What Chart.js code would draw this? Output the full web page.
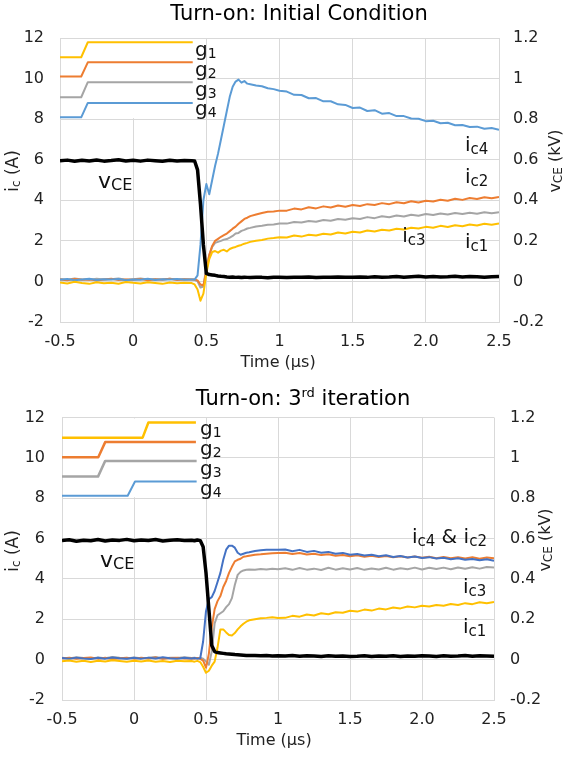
<!DOCTYPE html>
<html>
<head>
<meta charset="utf-8">
<script src="https://cdn.jsdelivr.net/npm/chart.js@4.4.1/dist/chart.umd.min.js"></script>
<style>
  html, body { margin: 0; padding: 0; background: #fff; }
  canvas { position: absolute; left: 0; }
  #chart1 { top: 0; }
  #chart2 { top: 378px; }
</style>
</head>
<body>
<canvas id="chart1" width="565" height="378"></canvas>
<canvas id="chart2" width="565" height="379"></canvas>
<script>
// time axis (µs), shared by both measurements
const time = [
  -0.5,-0.45,-0.4,-0.35,-0.3,-0.25,-0.2,-0.15,-0.1,-0.05,
  0,0.05,0.1,0.15,0.2,0.25,0.3,0.35,
  0.4,0.42,0.44,0.46,0.48,0.5,0.52,0.54,0.56,0.58,
  0.6,0.62,0.64,0.66,0.68,0.7,0.72,0.74,0.76,0.78,
  0.8,0.84,0.88,0.92,0.96,1.0,
  1.05,1.1,1.15,1.2,1.25,1.3,1.35,1.4,1.45,1.5,
  1.55,1.6,1.65,1.7,1.75,1.8,1.85,1.9,1.95,2.0,
  2.05,2.1,2.15,2.2,2.25,2.3,2.35,2.4,2.45,2.5
];

// tick labels
const xTicks = [-0.5, 0, 0.5, 1, 1.5, 2, 2.5];
const xTickLabels = ['-0.5', '0', '0.5', '1', '1.5', '2.0', '2.5'];
const iTicks = [-2, 0, 2, 4, 6, 8, 10, 12];
const iTickLabels = ['-2', '0', '2', '4', '6', '8', '10', '12'];
const vTicks = [-0.2, 0, 0.2, 0.4, 0.6, 0.8, 1, 1.2];
const vTickLabels = ['-0.2', '0', '0.2', '0.4', '0.6', '0.8', '1', '1.2'];

// ---- Initial condition ----
const vce1 = [
  0.595,0.598,0.592,0.597,0.594,0.599,0.593,0.596,0.600,0.594,
  0.597,0.593,0.598,0.595,0.592,0.597,0.594,0.596,
  0.595,0.594,0.55,0.38,0.18,0.040,0.034,0.032,0.030,0.027,
  0.025,0.024,0.022,0.021,0.022,0.020,0.021,0.019,0.021,0.020,
  0.019,0.021,0.020,0.018,0.021,0.020,
  0.019,0.021,0.020,0.022,0.019,0.021,0.020,0.022,0.021,0.020,
  0.022,0.020,0.023,0.021,0.022,0.024,0.021,0.023,0.025,0.022,
  0.024,0.022,0.023,0.025,0.022,0.024,0.023,0.021,0.023,0.024
];
const ic4_1 = [
  0.08,0.12,0.06,0.10,0.13,0.07,0.11,0.09,0.12,0.06,
  0.10,0.08,0.13,0.07,0.11,0.09,0.12,0.08,
  0.10,0.09,0.30,1.80,4.00,4.80,4.30,5.00,5.70,6.30,
  7.00,7.70,8.40,9.10,9.60,9.85,9.95,9.80,9.88,9.75,
  9.72,9.66,9.62,9.52,9.48,9.40,
  9.36,9.20,9.19,9.03,9.04,8.88,8.88,8.73,8.70,8.55,
  8.57,8.40,8.44,8.27,8.30,8.15,8.15,8.03,8.02,7.90,
  7.92,7.80,7.82,7.70,7.71,7.61,7.63,7.53,7.56,7.48
];
const ic2_1 = [
  0.10,0.06,0.12,0.08,0.11,0.05,0.09,0.13,0.07,0.10,
  0.08,0.12,0.06,0.10,0.09,0.13,0.07,0.10,
  0.09,0.10,0.05,-0.15,-0.20,0.50,1.30,1.75,2.00,2.10,
  2.20,2.28,2.36,2.48,2.60,2.70,2.84,2.96,3.08,3.14,
  3.22,3.30,3.37,3.43,3.45,3.49,
  3.49,3.59,3.55,3.66,3.60,3.70,3.64,3.74,3.68,3.77,
  3.72,3.81,3.77,3.86,3.81,3.90,3.85,3.95,3.89,3.98,
  3.94,4.03,3.98,4.08,4.02,4.11,4.06,4.15,4.10,4.16
];
const ic3_1 = [
  0.12,0.08,0.14,0.10,0.07,0.13,0.09,0.11,0.15,0.08,
  0.11,0.14,0.09,0.12,0.08,0.13,0.10,0.12,
  0.10,0.08,0.00,-0.30,-0.25,0.70,1.30,1.70,1.90,1.95,
  2.00,2.06,2.09,2.16,2.24,2.36,2.39,2.49,2.54,2.61,
  2.64,2.71,2.74,2.79,2.81,2.85,
  2.85,2.93,2.90,2.98,2.94,3.03,2.99,3.08,3.04,3.11,
  3.08,3.17,3.12,3.21,3.16,3.25,3.20,3.29,3.24,3.32,
  3.27,3.35,3.30,3.37,3.32,3.39,3.34,3.41,3.36,3.41
];
const ic1_1 = [
  -0.05,-0.10,-0.02,-0.08,-0.12,-0.04,-0.09,-0.06,-0.11,-0.03,
  -0.07,-0.10,-0.04,-0.08,-0.12,-0.05,-0.09,-0.06,
  -0.08,-0.15,-0.40,-0.95,-0.60,0.40,1.10,1.45,1.50,1.42,
  1.52,1.56,1.48,1.60,1.66,1.70,1.76,1.80,1.86,1.90,
  1.95,2.01,2.04,2.11,2.14,2.18,
  2.17,2.26,2.21,2.30,2.26,2.35,2.31,2.41,2.36,2.45,
  2.41,2.51,2.46,2.55,2.51,2.60,2.56,2.65,2.61,2.69,
  2.65,2.74,2.68,2.77,2.72,2.81,2.76,2.84,2.79,2.86
];
// gate signals (inset), time / level pairs
const gT_1 = [-0.5, -0.355, -0.31, 0.407];
const g1V_1 = [11.05, 11.05, 11.79, 11.79];
const g2V_1 = [10.1, 10.1, 10.8, 10.8];
const g3V_1 = [9.08, 9.08, 9.82, 9.82];
const g4V_1 = [8.09, 8.09, 8.8, 8.8];

// ---- 3rd iteration ----
const vce2 = [
  0.590,0.594,0.587,0.592,0.589,0.595,0.588,0.593,0.591,0.596,
  0.589,0.593,0.590,0.595,0.588,0.592,0.594,0.590,
  0.592,0.589,0.593,0.590,0.56,0.43,0.25,0.07,0.040,0.035,
  0.033,0.031,0.029,0.028,0.027,0.025,0.024,0.023,0.022,0.021,
  0.020,0.021,0.019,0.020,0.018,0.019,
  0.018,0.020,0.017,0.019,0.018,0.016,0.019,0.017,0.018,0.016,
  0.017,0.019,0.016,0.018,0.017,0.019,0.016,0.018,0.017,0.019,
  0.018,0.016,0.019,0.017,0.018,0.020,0.017,0.019,0.018,0.017
];
const ic4_2 = [
  0.08,0.04,0.10,0.06,0.03,0.09,0.05,0.11,0.07,0.04,
  0.09,0.05,0.10,0.06,0.12,0.07,0.04,0.09,
  0.06,0.08,0.05,0.07,0.90,2.40,3.00,3.10,3.40,3.85,
  4.30,4.95,5.45,5.65,5.65,5.55,5.30,5.20,5.25,5.30,
  5.32,5.38,5.42,5.45,5.44,5.45,
  5.46,5.37,5.44,5.34,5.39,5.30,5.34,5.25,5.29,5.20,
  5.24,5.16,5.20,5.12,5.17,5.09,5.14,5.06,5.11,5.04,
  5.08,5.01,5.05,4.98,5.02,4.95,4.99,4.93,4.97,4.90
];
const ic2_2 = [
  0.06,0.10,0.04,0.08,0.11,0.05,0.09,0.03,0.07,0.10,
  0.05,0.09,0.06,0.11,0.04,0.08,0.10,0.06,
  0.07,0.05,0.08,0.04,-0.05,-0.40,0.30,1.60,2.50,2.90,
  3.15,3.60,3.90,4.30,4.60,4.87,4.95,5.00,5.10,5.12,
  5.15,5.20,5.22,5.25,5.27,5.28,
  5.30,5.24,5.28,5.21,5.25,5.18,5.22,5.15,5.19,5.12,
  5.17,5.10,5.15,5.09,5.13,5.07,5.12,5.06,5.11,5.05,
  5.10,5.03,5.09,5.02,5.08,5.01,5.07,5.00,5.06,5.02
];
const ic3_2 = [
  0.10,0.06,0.12,0.08,0.05,0.11,0.07,0.13,0.09,0.06,
  0.11,0.07,0.09,0.13,0.06,0.10,0.08,0.12,
  0.08,0.10,0.07,0.09,0.05,-0.10,-0.25,0.40,1.80,2.20,
  2.30,2.40,2.60,2.75,3.05,3.70,4.20,4.35,4.42,4.45,
  4.47,4.46,4.49,4.47,4.50,4.48,
  4.53,4.45,4.54,4.46,4.51,4.44,4.55,4.46,4.53,4.47,
  4.54,4.45,4.52,4.47,4.55,4.46,4.53,4.48,4.56,4.47,
  4.55,4.49,4.56,4.48,4.57,4.50,4.58,4.51,4.59,4.57
];
const ic1_2 = [
  -0.08,-0.04,-0.10,-0.06,-0.12,-0.05,-0.09,-0.03,-0.07,-0.11,
  -0.06,-0.09,-0.04,-0.10,-0.07,-0.12,-0.05,-0.08,
  -0.07,-0.10,-0.06,-0.12,-0.35,-0.65,-0.55,-0.30,-0.10,0.60,
  1.50,1.50,1.35,1.22,1.20,1.32,1.50,1.65,1.78,1.88,
  1.95,2.00,2.05,2.07,2.10,2.06,
  2.07,2.17,2.13,2.24,2.19,2.30,2.25,2.35,2.32,2.42,
  2.38,2.48,2.43,2.53,2.49,2.58,2.54,2.63,2.59,2.67,
  2.63,2.71,2.67,2.76,2.71,2.80,2.75,2.84,2.80,2.86
];
const g1T_2 = [-0.5, 0.06, 0.10, 0.43];
const g1V_2 = [11.0, 11.0, 11.75, 11.75];
const g2T_2 = [-0.5, -0.248, -0.2, 0.43];
const g2V_2 = [10.03, 10.03, 10.78, 10.78];
const g3T_2 = [-0.5, -0.25, -0.2, 0.435];
const g3V_2 = [9.07, 9.07, 9.85, 9.85];
const g4T_2 = [-0.5, -0.044, 0.007, 0.435];
const g4V_2 = [8.12, 8.12, 8.83, 8.83];

const YELLOW = '#FFC000', ORANGE = '#ED7D31', GRAY = '#A5A5A5', BLUE = '#5B9BD5', DBLUE = '#4472C4';
const GRID = '#d9d9d9';
const FONT = '"DejaVu Sans", sans-serif';
Chart.defaults.font.family = FONT;

function pts(xs, ys) {
  return xs.map((x, i) => ({ x: x, y: ys[i] }));
}
function line(data, color, width, axis) {
  return { data: data, borderColor: color, borderWidth: width, yAxisID: axis || 'y', pointRadius: 0, fill: false };
}
function pickLabel(ticks, labels) {
  return v => {
    const k = ticks.findIndex(t => Math.abs(t - v) < 1e-6);
    return k >= 0 ? labels[k] : '';
  };
}

// text made of pieces: [text, size, dy]
function partsWidth(ctx, parts) {
  let w = 0;
  parts.forEach(p => { ctx.font = p[1] + 'px ' + FONT; w += ctx.measureText(p[0]).width; });
  return w;
}
function drawParts(ctx, x, y, parts) {
  let cx = x;
  parts.forEach(p => {
    ctx.font = p[1] + 'px ' + FONT;
    ctx.fillText(p[0], cx, y + (p[2] || 0));
    cx += ctx.measureText(p[0]).width;
  });
}

function decoPlugin(cfg) {
  return {
    id: 'deco',
    beforeDatasetsDraw(chart) {
      // white inset behind the gate signals
      const ctx = chart.ctx, xs = chart.scales.x, ys = chart.scales.y;
      const l = xs.getPixelForValue(-0.5) + 1, r = xs.getPixelForValue(cfg.insetEnd);
      const t = ys.getPixelForValue(12) + 1, b = ys.getPixelForValue(8) - 1;
      ctx.save();
      ctx.fillStyle = '#fff';
      ctx.fillRect(l, t, r - l, b - t);
      ctx.restore();
    },
    afterDraw(chart) {
      const ctx = chart.ctx, xs = chart.scales.x, ys = chart.scales.y;
      ctx.save();
      ctx.fillStyle = '#000';
      ctx.textBaseline = 'alphabetic';
      ctx.textAlign = 'left';
      // title
      drawParts(ctx, cfg.title.cx - partsWidth(ctx, cfg.title.parts) / 2, cfg.title.y, cfg.title.parts);
      // x axis title
      ctx.fillStyle = '#222';
      drawParts(ctx, cfg.xTitle.cx - partsWidth(ctx, cfg.xTitle.parts) / 2, cfg.xTitle.y, cfg.xTitle.parts);
      // rotated y titles
      [cfg.yTitle, cfg.vTitle].forEach(a => {
        ctx.save();
        ctx.translate(a.cx, a.cy);
        ctx.rotate(-Math.PI / 2);
        ctx.textBaseline = 'middle';
        drawParts(ctx, -partsWidth(ctx, a.parts) / 2, 0, a.parts);
        ctx.restore();
      });
      // curve labels
      ctx.fillStyle = '#111';
      cfg.labels.forEach(lb => {
        drawParts(ctx, xs.getPixelForValue(lb.x), ys.getPixelForValue(lb.y), lb.parts);
      });
      ctx.restore();
    }
  };
}

function makeChart(id, cfg) {
  const tickFont = { size: 16 };
  return new Chart(document.getElementById(id), {
    type: 'line',
    data: { datasets: cfg.datasets },
    options: {
      responsive: false,
      animation: false,
      layout: { padding: { top: cfg.top, left: 0, right: 0, bottom: 0 } },
      plugins: { legend: { display: false }, tooltip: { enabled: false } },
      elements: { line: { tension: 0, borderJoinStyle: 'round' } },
      scales: {
        x: {
          type: 'linear', min: -0.5, max: 2.5,
          ticks: { stepSize: 0.5, autoSkip: false, maxRotation: 0, padding: 10, color: '#222', font: tickFont,
                   callback: pickLabel(xTicks, xTickLabels) },
          grid: { color: GRID, drawTicks: false },
          border: { color: GRID },
          afterFit(s) { s.height = cfg.xH; }
        },
        y: {
          position: 'left', min: -2, max: 12,
          ticks: { stepSize: 2, padding: cfg.yPad, color: '#222', font: tickFont,
                   callback: pickLabel(iTicks, iTickLabels) },
          grid: { color: GRID, drawTicks: false },
          border: { color: GRID },
          afterFit(s) { s.width = cfg.yW; }
        },
        yv: {
          position: 'right', min: -0.2, max: 1.2,
          ticks: { stepSize: 0.2, padding: cfg.vPad, color: '#222', font: tickFont,
                   callback: pickLabel(vTicks, vTickLabels) },
          grid: { display: false, drawTicks: false },
          border: { display: false },
          afterFit(s) { s.width = cfg.vW; }
        }
      }
    },
    plugins: [decoPlugin(cfg)]
  });
}

const gSub = n => [['g', 20], [String(n), 14, 2]];
const iSub = s => [['i', 20], ['c' + s, 15, 3]];
const vLabel = [['v', 22], ['CE', 16, 2]];

makeChart('chart1', {
  top: 38, xH: 56, yW: 60, vW: 66, yPad: 16, vPad: 14, insetEnd: 0.47,
  title: { cx: 299, y: 20, parts: [['Turn-on: Initial Condition', 21]] },
  xTitle: { cx: 278, y: 367, parts: [['Time (μs)', 16]] },
  yTitle: { cx: 14, cy: 171, parts: [['i', 17], ['c', 12, 3], [' (A)', 17]] },
  vTitle: { cx: 556, cy: 161, parts: [['v', 16], ['CE', 12, 3], [' (kV)', 16]] },
  labels: [
    { x: 0.423, y: 11.13, parts: gSub(1) },
    { x: 0.423, y: 10.15, parts: gSub(2) },
    { x: 0.423, y: 9.16, parts: gSub(3) },
    { x: 0.423, y: 8.18, parts: gSub(4) },
    { x: 2.268, y: 6.45, parts: iSub('4') },
    { x: 2.268, y: 4.83, parts: iSub('2') },
    { x: 1.838, y: 1.92, parts: iSub('3') },
    { x: 2.268, y: 1.63, parts: iSub('1') },
    { x: -0.24, y: 4.63, parts: vLabel }
  ],
  datasets: [
    line(pts(time, vce1), '#000', 3.5, 'yv'),
    line(pts(time, ic1_1), YELLOW, 2),
    line(pts(time, ic4_1), BLUE, 2),
    line(pts(time, ic2_1), ORANGE, 2),
    line(pts(time, ic3_1), GRAY, 2),
    line(pts(gT_1, g1V_1), YELLOW, 2),
    line(pts(gT_1, g2V_1), ORANGE, 2),
    line(pts(gT_1, g3V_1), GRAY, 2),
    line(pts(gT_1, g4V_1), BLUE, 2)
  ]
});

makeChart('chart2', {
  top: 39.5, xH: 57, yW: 62, vW: 71, yPad: 17, vPad: 16, insetEnd: 0.47,
  title: { cx: 303, y: 27, parts: [['Turn-on: 3', 21], ['rd', 13, -8], [' iteration', 21]] },
  xTitle: { cx: 274, y: 367, parts: [['Time (μs)', 16]] },
  yTitle: { cx: 14, cy: 173, parts: [['i', 17], ['c', 12, 3], [' (A)', 17]] },
  vTitle: { cx: 546, cy: 162, parts: [['v', 16], ['CE', 12, 3], [' (kV)', 16]] },
  labels: [
    { x: 0.458, y: 11.14, parts: gSub(1) },
    { x: 0.458, y: 10.15, parts: gSub(2) },
    { x: 0.458, y: 9.16, parts: gSub(3) },
    { x: 0.458, y: 8.17, parts: gSub(4) },
    { x: 1.93, y: 5.79, parts: [['i', 20], ['c4', 15, 3], [' & ', 20], ['i', 20], ['c2', 15, 3]] },
    { x: 2.285, y: 3.32, parts: iSub('3') },
    { x: 2.285, y: 1.34, parts: iSub('1') },
    { x: -0.236, y: 4.6, parts: vLabel }
  ],
  datasets: [
    line(pts(time, vce2), '#000', 3.5, 'yv'),
    line(pts(time, ic1_2), YELLOW, 2),
    line(pts(time, ic4_2), DBLUE, 2),
    line(pts(time, ic2_2), ORANGE, 2),
    line(pts(time, ic3_2), GRAY, 2),
    line(pts(g1T_2, g1V_2), YELLOW, 2.5),
    line(pts(g2T_2, g2V_2), ORANGE, 2.5),
    line(pts(g3T_2, g3V_2), GRAY, 2.5),
    line(pts(g4T_2, g4V_2), BLUE, 2)
  ]
});
</script>
</body>
</html>
